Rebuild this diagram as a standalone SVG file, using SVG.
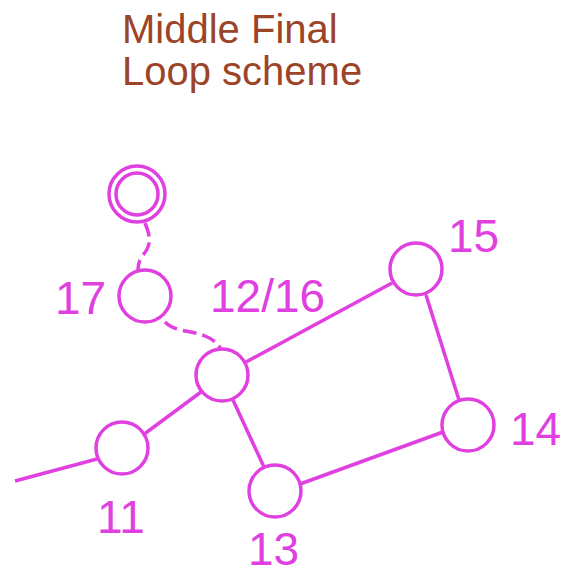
<svg xmlns="http://www.w3.org/2000/svg" width="570" height="575" viewBox="0 0 570 575">
<style>
.title{font-family:"Liberation Sans",Arial,sans-serif;font-size:40px;fill:#9c4428}
.lbl{font-family:"Liberation Sans",Arial,sans-serif;font-size:46px;fill:#e040e0}
.node{fill:#fff;stroke:#e040e0;stroke-width:3.5}
.edge{fill:none;stroke:#e040e0;stroke-width:3.5}
.dash{fill:none;stroke:#e040e0;stroke-width:3.5;stroke-dasharray:14 6}
</style>
<rect width="570" height="575" fill="#fff"/>
<g id="title">
<text class="title" x="122" y="43">Middle Final</text>
<text class="title" x="122" y="85">Loop scheme</text>
</g>
<g id="connectors">
<line class="edge" x1="15" y1="481" x2="97" y2="459"/>
<line class="edge" x1="143" y1="435" x2="201" y2="392"/>
<line class="edge" x1="246" y1="362" x2="392" y2="283"/>
<line class="edge" x1="233" y1="400" x2="264" y2="467"/>
<line class="edge" x1="300" y1="484" x2="443" y2="432"/>
<line class="edge" x1="426" y1="295" x2="459" y2="400"/>
<path class="dash" d="M145,223 C150,235 152,245 143,255 C139,260 138,265 138,270"/>
<path class="dash" d="M165,322 C175,332 190,330 205,336 C215,340 219,345 221,350"/>
</g>
<g id="n-end"><circle class="node" cx="137" cy="194" r="28"/><circle class="node" cx="137" cy="194" r="21"/></g>
<g id="n17"><circle class="node" cx="145" cy="296" r="26"/><text class="lbl" x="55" y="314">17</text></g>
<g id="n12-16"><circle class="node" cx="222" cy="375" r="26"/><text class="lbl" x="210" y="312">12/16</text></g>
<g id="n11"><circle class="node" cx="122" cy="448" r="26"/><text class="lbl" x="97" y="533">11</text></g>
<g id="n13"><circle class="node" cx="275" cy="491" r="26"/><text class="lbl" x="248" y="565">13</text></g>
<g id="n15"><circle class="node" cx="416" cy="269" r="26"/><text class="lbl" x="448" y="252">15</text></g>
<g id="n14"><circle class="node" cx="468" cy="425" r="26"/><text class="lbl" x="510" y="445">14</text></g>
</svg>
